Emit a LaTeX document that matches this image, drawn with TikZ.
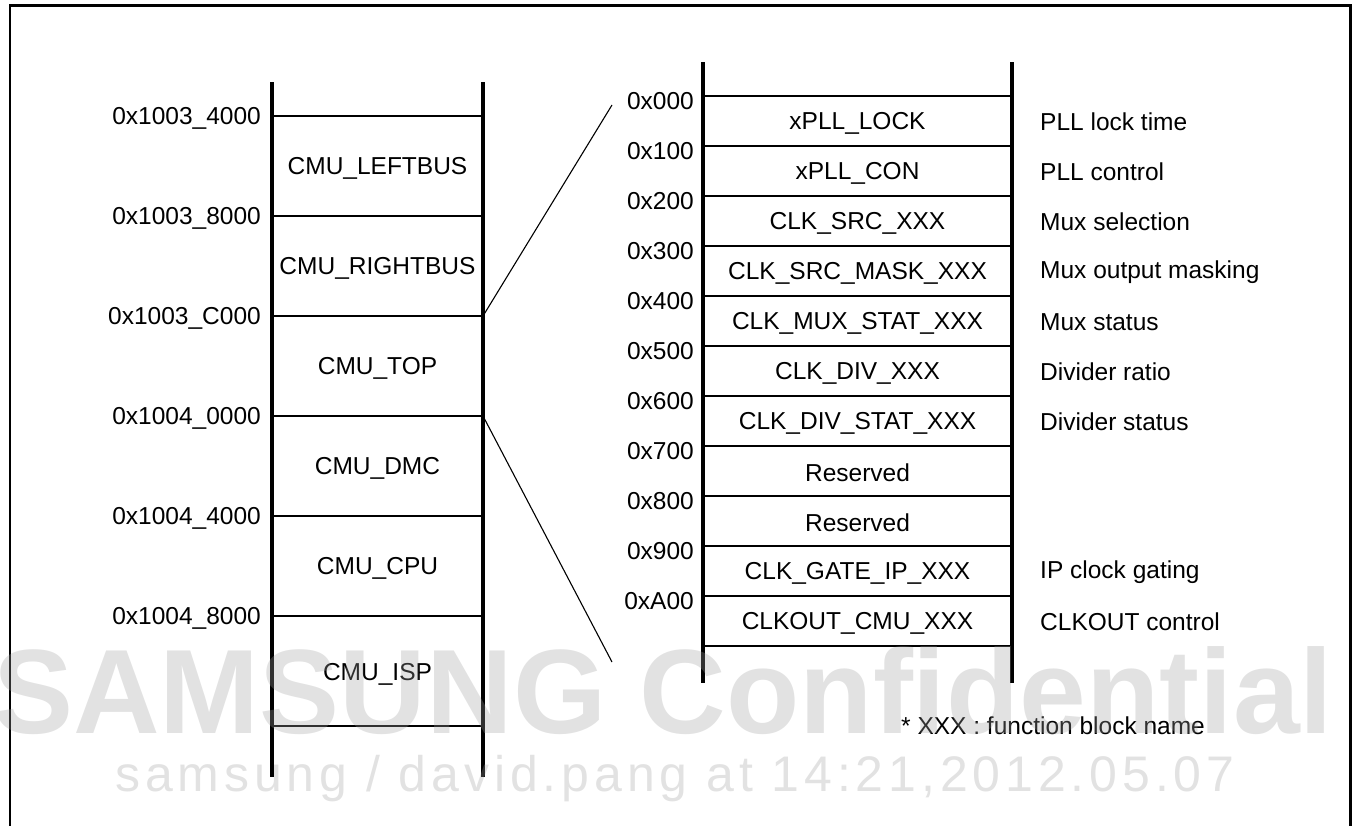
\documentclass[tikz,border=0pt]{standalone}
\usepackage{fontspec}
\setmainfont{Liberation Sans}
\newfontfamily\wmfont{Liberation Sans}[LetterSpace=9.8]
\begin{document}
\begin{tikzpicture}[x=1pt,y=-1pt,font=\fontsize{24.5}{29}\selectfont,
		rail/.style={line width=3.5pt},
		sep/.style={line width=2pt},
		zoomline/.style={line width=1.1pt},
		wm/.style={inner sep=0pt,text=gray!75,text opacity=0.3}]
	\useasboundingbox (0,0) rectangle (1358,825);
	\draw[line width=2.5pt] (10,5.5) rectangle (1350.5,900);
	\coordinate (L1) at (272,82); \coordinate (L2) at (272,777);
	\coordinate (R1) at (483,82); \coordinate (R2) at (483,777);
	\draw[rail] (L1) -- (L2);
	\draw[rail] (R1) -- (R2);
	\foreach \y/\addr [count=\i] in {116/0x1003\_4000,216/0x1003\_8000,316/0x1003\_C000,416/0x1004\_0000,516/0x1004\_4000,616/0x1004\_8000}{
		\draw[sep] (272,\y) coordinate (a\i) -- (483,\y) coordinate (b\i);
		\node[inner sep=0pt,anchor=east] (addr\i) at (261,{\y+2}) {\addr};
	}
	\draw[sep] (272,726) coordinate (a7) -- (483,726) coordinate (b7);
	\foreach \y/\blk [count=\i] in {168/CMU\_LEFTBUS,268/CMU\_RIGHTBUS,368/CMU\_TOP,468/CMU\_DMC,568/CMU\_CPU,674/CMU\_ISP}{
		\node (blk\i) at (377.5,\y) {\blk};
	}
	\coordinate (P1) at (703,62); \coordinate (P2) at (703,683);
	\coordinate (Q1) at (1012,62); \coordinate (Q2) at (1012,683);
	\draw[rail] (P1) -- (P2);
	\draw[rail] (Q1) -- (Q2);
	\foreach \k in {0,...,11}{
		\draw[sep] (703,{96+50*\k}) coordinate (c\k) -- (1012,{96+50*\k}) coordinate (d\k);
	}
	\foreach \off/\reg [count=\k from 0] in {000/xPLL\_LOCK,100/xPLL\_CON,200/CLK\_SRC\_XXX,300/CLK\_SRC\_MASK\_XXX,400/CLK\_MUX\_STAT\_XXX,500/CLK\_DIV\_XXX,600/CLK\_DIV\_STAT\_XXX,700/Reserved,800/Reserved,900/CLK\_GATE\_IP\_XXX,A00/CLKOUT\_CMU\_XXX}{
		\node[inner sep=0pt,anchor=east] (off\k) at (694,{101+50*\k}) {0x\off};
		\node (reg\k) at (857.5,{123+50*\k}) {\reg};
	}
	\foreach \k/\desc in {0/PLL lock time,1/PLL control,2/Mux selection,3/Mux output masking,4/Mux status,5/Divider ratio,6/Divider status,9/IP clock gating,10/CLKOUT control}{
		\node[inner sep=0pt,anchor=west] (desc\k) at (1040,{122+50*\k}) {\desc};
	}
	\coordinate (zt) at (612,105); \coordinate (zb) at (612,662);
	\draw[zoomline] (b3) -- (zt);
	\draw[zoomline] (b4) -- (zb);
	\node[inner sep=0pt,anchor=west] (note) at (901,726) {* XXX : function block name};
	\node[wm,anchor=base west,font=\fontsize{120}{120}\selectfont\bfseries] (wm1) at (-7,733) {SAMSUNG Confidential};
	\node[wm,anchor=base west,font=\wmfont\fontsize{50}{50}\selectfont] (wm2) at (115,791) {samsung / david.pang at 14:21,2012.05.07};
\end{tikzpicture}
\end{document}
